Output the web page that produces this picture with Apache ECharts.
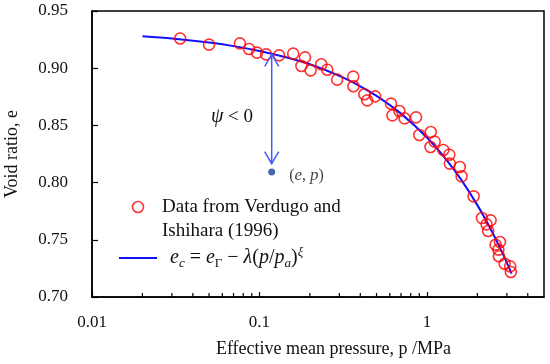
<!DOCTYPE html>
<html>
<head>
<meta charset="utf-8">
<script src="https://cdn.jsdelivr.net/npm/echarts@6/dist/echarts.min.js"></script>
<style>html,body{margin:0;padding:0;background:#fff}#c{width:550px;height:364px}</style>
</head>
<body>
<div id="c"></div>
<script>
// ---- data ----
var dataP = [0.0336,0.050,0.0764,0.0866,0.0967,0.1096,0.131,0.159,0.187,0.178,0.202,0.234,0.254,0.291,0.363,0.364,0.423,0.440,0.491,0.610,0.622,0.684,0.735,0.861,0.900,1.054,1.05,1.112,1.253,1.36,1.37,1.57,1.61,1.90,2.13,2.27,2.40,2.32,2.57,2.73,2.67,2.69,2.91,3.14,3.17];
var dataE = [0.926,0.9206,0.9217,0.9168,0.9136,0.9121,0.9112,0.9127,0.9095,0.9019,0.8981,0.9034,0.8987,0.890,0.8926,0.8842,0.8772,0.8719,0.8754,0.869,0.8588,0.8626,0.8562,0.857,0.8416,0.8442,0.8311,0.8358,0.8285,0.8244,0.8166,0.8136,0.8055,0.788,0.769,0.7635,0.767,0.7577,0.7457,0.7481,0.7414,0.7356,0.7291,0.7268,0.7219];
var curveP = [0.02,0.03,0.05,0.07,0.1,0.15,0.2,0.3,0.4,0.5,0.7,1.0,1.3,1.6,2.0,2.4,2.8,3.2];
var curveE = [0.9279,0.9259,0.9224,0.9193,0.9151,0.9089,0.9034,0.8933,0.8842,0.8758,0.8603,0.8394,0.8203,0.8026,0.7803,0.7594,0.7396,0.7205];
var stateP = [0.1183];
var stateE = [0.8093];
var arrow = [0.1183, 0.912, 0.8165]; // p, e at curve, e near state point
var minorTicksX = [0.02,0.03,0.04,0.05,0.06,0.07,0.08,0.09,0.2,0.3,0.4,0.5,0.6,0.7,0.8,0.9,2,3,4];
var xTickLabels = {'0.01':'0.01','0.1':'0.1','1':'1'};
var dataName = 'Data from Verdugo and Ishihara (1996)';
var curveName = 'CSL';

var FONT = 'Liberation Serif';
var TXT = '#111';

function zip(a, b) { return a.map(function (v, i) { return [v, b[i]]; }); }

var chart = echarts.init(document.getElementById('c'), null, {renderer: 'canvas'});
chart.setOption({
  animation: false,
  backgroundColor: '#fff',
  grid: {left: 92, right: 6, top: 11, bottom: 67, show: true, borderColor: '#000', borderWidth: 1.5,
    backgroundColor: 'transparent', containLabel: false, outerBoundsMode: 'none'},
  xAxis: {
    type: 'log', min: 0.01, max: 5, logBase: 10,
    name: 'Effective mean pressure, p /MPa', nameLocation: 'middle', nameGap: 43,
    nameTextStyle: {fontFamily: FONT, fontSize: 18, color: TXT, padding: [0, 0, 0, 31]},
    axisLine: {lineStyle: {color: '#000', width: 1.5}},
    axisTick: {inside: true, length: 5, lineStyle: {color: '#000', width: 1.2}},
    axisLabel: {fontFamily: FONT, fontSize: 17, color: TXT, margin: 17, showMaxLabel: false, alignMinLabel: 'center',
      formatter: function (v) { var k = String(+(+v).toPrecision(3)); return xTickLabels[k] || ''; }},
    splitLine: {show: false}, minorTick: {show: false}
  },
  yAxis: {
    type: 'value', min: 0.7, max: 0.95, interval: 0.05,
    name: 'Void ratio, e', nameLocation: 'middle', nameGap: 71,
    nameTextStyle: {fontFamily: FONT, fontSize: 18, color: TXT},
    axisLine: {show: true, lineStyle: {color: '#000', width: 1.5}},
    axisTick: {show: true, inside: true, length: 6, lineStyle: {color: '#000', width: 1.2}},
    axisLabel: {fontFamily: FONT, fontSize: 17, color: TXT, margin: 24, formatter: function (v) { return v.toFixed(2); }},
    splitLine: {show: false}
  },
  legend: {
    left: 114, top: 166, orient: 'vertical', itemGap: 3, itemWidth: 38, itemHeight: 11,
    symbolKeepAspect: true,
    data: [
      {name: dataName, icon: 'circle', itemStyle: {color: 'transparent', borderColor: '#ff0000', borderWidth: 1.6}},
      {name: curveName, icon: 'path://M0,0H38V2H0Z', symbolKeepAspect: true, itemStyle: {color: '#1010ff', borderWidth: 0}}
    ],
    formatter: function (n) {
      if (n === dataName) return '\nData from Verdugo and\nIshihara (1996)';
      return '{i0|e}{sb|c}{n| = }{i|e}{sbu|Γ}{n| − }{i|λ}{n|(}{i|p}{n|/}{i|p}{sb|a}{n|)}{sp|ξ}';
    },
    textStyle: {
      fontFamily: FONT, fontSize: 19, color: TXT, lineHeight: 24,
      rich: {
        i0: {fontFamily: FONT, fontSize: 20, fontStyle: 'italic', color: TXT, lineHeight: 24, padding: [0, 0, 0, 8]},
        i: {fontFamily: FONT, fontSize: 20, fontStyle: 'italic', color: TXT, lineHeight: 24},
        n: {fontFamily: FONT, fontSize: 20, color: TXT, lineHeight: 24},
        sb: {fontFamily: FONT, fontSize: 13, fontStyle: 'italic', color: TXT, lineHeight: 24, verticalAlign: 'bottom'},
        sbu: {fontFamily: FONT, fontSize: 13, color: TXT, lineHeight: 24, verticalAlign: 'bottom'},
        sp: {fontFamily: FONT, fontSize: 13, fontStyle: 'italic', color: TXT, lineHeight: 24, verticalAlign: 'top'}
      }
    }
  },
  graphic: [{
    type: 'text', x: 232, y: 117, z: 100,
    style: {
      text: '{i|ψ}{n| < 0}', align: 'center', verticalAlign: 'middle',
      rich: {
        i: {fontFamily: FONT, fontSize: 20, fontStyle: 'italic', fill: TXT},
        n: {fontFamily: FONT, fontSize: 19, fill: TXT}
      }
    }
  }],
  series: [
    {
      name: curveName, type: 'line', data: zip(curveP, curveE), smooth: 0.3,
      symbol: 'none', showSymbol: false, lineStyle: {color: '#1010ff', width: 2}, itemStyle: {color: '#1010ff'}, z: 3
    },
    {
      name: dataName, type: 'scatter', data: zip(dataP, dataE), symbol: 'circle', symbolSize: 11,
      itemStyle: {color: 'transparent', borderColor: '#ff0000', borderWidth: 1.6}, z: 4
    },
    {
      name: 'state', type: 'scatter', data: zip(stateP, stateE), symbol: 'circle', symbolSize: 7,
      itemStyle: {color: '#1a3f9e'}, z: 5,
      label: {show: true, position: 'right', distance: 14, offset: [0, 4],
        formatter: '{n|(}{i|e}{n|, }{i|p}{n|)}',
        rich: {i: {fontFamily: FONT, fontSize: 17, fontStyle: 'italic', color: TXT}, n: {fontFamily: FONT, fontSize: 16, color: TXT}}}
    },
    {
      name: 'arrow', type: 'custom', z: 6, data: [arrow], encode: {x: 0, y: [1, 2]},
      renderItem: function (params, api) {
        var a = api.coord([api.value(0), api.value(1)]);
        var b = api.coord([api.value(0), api.value(2)]);
        var st = {stroke: '#4658ff', lineWidth: 1.5, fill: null};
        return {type: 'group', children: [
          {type: 'line', shape: {x1: a[0], y1: a[1], x2: b[0], y2: b[1]}, style: st},
          {type: 'polyline', shape: {points: [[a[0] - 7, a[1] + 12], [a[0], a[1]], [a[0] + 7, a[1] + 12]]}, style: st},
          {type: 'polyline', shape: {points: [[b[0] - 7, b[1] - 12], [b[0], b[1]], [b[0] + 7, b[1] - 12]]}, style: st}
        ]};
      }
    },
    {
      name: 'minorTicks', type: 'custom', z: 6, silent: true, data: minorTicksX.map(function (v) { return [v, 0.7]; }),
      encode: {x: 0, y: 1},
      renderItem: function (params, api) {
        var p = api.coord([api.value(0), api.value(1)]);
        return {type: 'line', shape: {x1: p[0], y1: p[1], x2: p[0], y2: p[1] - 4}, style: {stroke: '#000', lineWidth: 1.2}};
      }
    }
  ]
});
</script>
</body>
</html>
